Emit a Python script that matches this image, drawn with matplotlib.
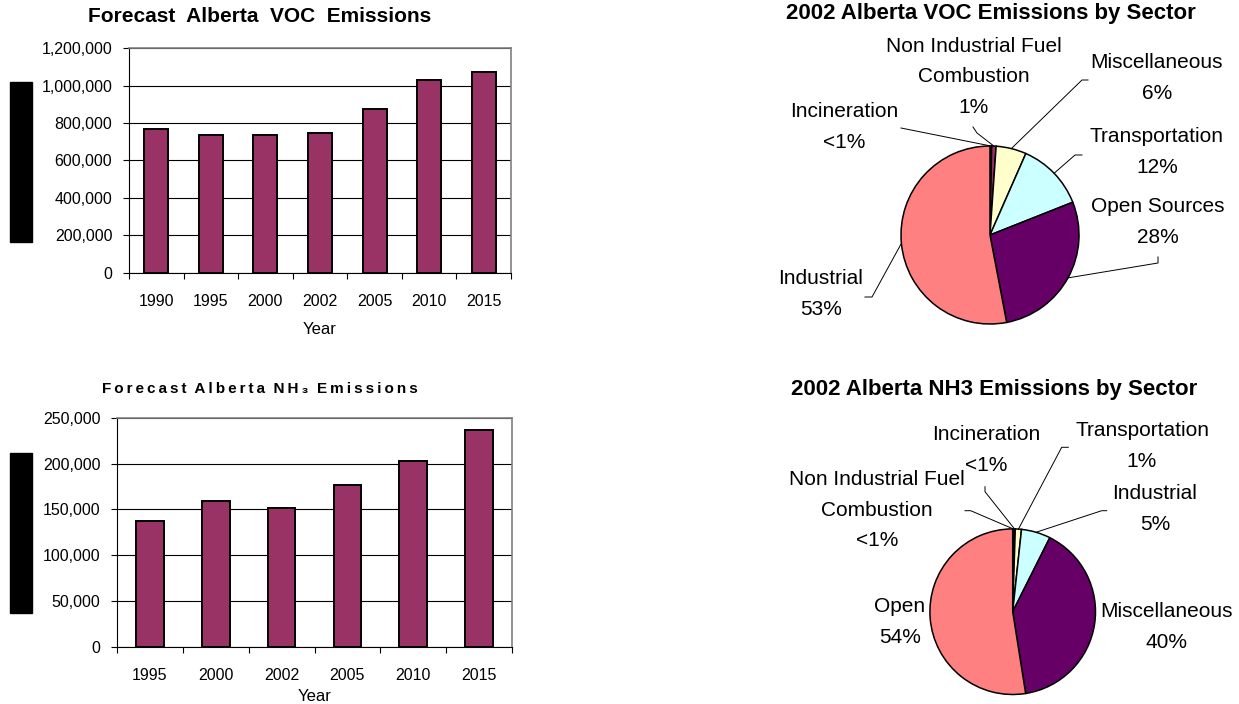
"""
Alberta VOC / NH3 emissions: forecast bars and 2002 sector pies
"""
import matplotlib
matplotlib.use('Agg')
import matplotlib.pyplot as plt
from matplotlib.patches import Rectangle
from matplotlib.ticker import FuncFormatter
import numpy as np

plt.rcParams['font.family'] = ['Liberation Sans', 'DejaVu Sans']

# --- data -------------------------------------------------------------
voc_years = ['1990', '1995', '2000', '2002', '2005', '2010', '2015']
voc_values = [767500, 737000, 737000, 748000, 875600, 1029800, 1074000]

nh3_years = ['1995', '2000', '2002', '2005', '2010', '2015']
nh3_values = [137500, 159000, 151000, 176500, 202700, 236900]

voc_sectors = ['Incineration', 'Non Industrial Fuel\nCombustion', 'Miscellaneous',
               'Transportation', 'Open Sources', 'Industrial']
voc_shares = [0.3, 0.8, 5.5, 12.4, 28.0, 53.0]
voc_pct = ['<1%', '1%', '6%', '12%', '28%', '53%']

nh3_sectors = ['Non Industrial Fuel\nCombustion', 'Incineration', 'Transportation',
               'Industrial', 'Miscellaneous', 'Open']
nh3_shares = [0.2, 0.3, 1.2, 5.7, 40.1, 52.5]
nh3_pct = ['<1%', '<1%', '1%', '5%', '40%', '54%']

# Excel default pie palette
pie_colors = ['#9999FF', '#993366', '#FFFFCC', '#CCFFFF', '#660066', '#FF8080']
bar_color = '#993366'

# --- layout (pixels of the 1239x704 canvas) ---------------------------
W, H = 1239, 704

# label centre, elbow points of the leader line (empty = no leader)
voc_label_layout = [
    ((844, 127), [(901, 128), (906, 129)]),
    ((974, 77), [(973, 127), (977, 133)]),
    ((1157, 78), [(1088, 80), (1082, 80)]),
    ((1157, 152), [(1082, 155), (1075, 155)]),
    ((1158, 222), [(1158, 257), (1158, 263)]),
    ((821, 294), [(865, 297), (872, 297)]),
]
nh3_label_layout = [
    ((877, 510), [(965, 510.7), (970.7, 510.7)]),
    ((986, 450), [(985, 486.7), (985, 491.7)]),
    ((1142, 446), [(1068.3, 447.3), (1061.7, 447.3)]),
    ((1155, 509), [(1106.7, 510.7), (1101.7, 510.7)]),
    ((1167, 627), []),
    ((900, 622), []),
]

fig = plt.figure(figsize=(W / 100, H / 100), dpi=100)


def px_axes(x0, y0, x1, y1):
    return fig.add_axes([x0 / W, 1 - y1 / H, (x1 - x0) / W, (y1 - y0) / H])


def bar_panel(box, cats, vals, ymax, ystep, width, label_y):
    ax = px_axes(*box)
    x = np.arange(len(cats))
    ax.bar(x, vals, width=width, color=bar_color, edgecolor='black',
           linewidth=1.4, zorder=3)
    ax.set_xlim(-0.5, len(cats) - 0.5)
    ax.set_ylim(0, ymax)
    ax.set_yticks(np.arange(0, ymax + 1, ystep))
    ax.yaxis.set_major_formatter(FuncFormatter(lambda v, p: f'{int(v):,}'))
    ax.grid(axis='y', color='black', linewidth=0.8)
    ax.set_axisbelow(True)
    ax.set_xticks(x)
    ax.set_xticklabels(cats)
    ax.set_xticks(np.arange(len(cats) + 1) - 0.5, minor=True)
    ax.tick_params(axis='x', which='major', length=0, pad=15, labelsize=11.5)
    ax.tick_params(axis='x', which='minor', length=4.5, width=0.8, direction='out')
    ax.tick_params(axis='y', length=4, width=0.8, pad=8, labelsize=11.5)
    for s in ('left', 'bottom'):
        ax.spines[s].set_color('black')
        ax.spines[s].set_linewidth(0.8)
    for s in ('top', 'right'):
        ax.spines[s].set_color('#808080')
        ax.spines[s].set_linewidth(1.2)
    ax.set_xlabel('Year', fontsize=12)
    ax.xaxis.set_label_coords(0.5, label_y)
    return ax


def pie_panel(box, center, radius, shares, names, pcts, layout):
    x0, y0, x1, y1 = box
    ax = px_axes(x0, y0, x1, y1)
    cx, cy = center

    def d(p):
        return ((p[0] - cx) / radius, (cy - p[1]) / radius)

    wedges, _ = ax.pie(shares, colors=pie_colors, startangle=90, counterclock=False,
                       wedgeprops=dict(edgecolor='black', linewidth=1.1))
    ax.set_aspect('auto')
    ax.set_xlim((x0 - cx) / radius, (x1 - cx) / radius)
    ax.set_ylim((cy - y1) / radius, (cy - y0) / radius)
    ax.axis('off')

    for w, name, pct, (lab, elbow) in zip(wedges, names, pcts, layout):
        tx, ty = d(lab)
        ax.text(tx, ty, f'{name}\n{pct}', ha='center', va='center',
                fontsize=15, linespacing=1.75)
        if elbow:
            th = np.radians((w.theta1 + w.theta2) / 2)
            pts = [d(p) for p in elbow] + [(np.cos(th), np.sin(th))]
            ax.plot([p[0] for p in pts], [p[1] for p in pts], color='black',
                    linewidth=0.7, clip_on=False)
    return ax


bar_panel((129, 48, 511, 273), voc_years, voc_values, 1200000, 200000, 0.44, -0.218)
bar_panel((117, 417.7, 512, 646.7), nh3_years, nh3_values, 250000, 50000, 0.42, -0.185)

pie_panel((760, 0, 1239, 350), (990, 235), 89, voc_shares, voc_sectors, voc_pct,
          voc_label_layout)
pie_panel((760, 372, 1239, 704), (1012.7, 611.7), 82.8, nh3_shares, nh3_sectors,
          nh3_pct, nh3_label_layout)

# black blocks where the y axis titles were
for (bx, by, bw, bh) in [(10, 82, 22, 160), (10, 453, 22, 160)]:
    fig.patches.append(Rectangle((bx / W, 1 - (by + bh) / H), bw / W, bh / H,
                                 transform=fig.transFigure, color='black'))

# titles
fig.text(260 / W, 1 - 17 / H, 'Forecast  Alberta  VOC  Emissions', ha='center',
         va='center', fontsize=15, fontweight='bold')
ts = '\u2009'
nh3_title = '  '.join(ts.join(w) for w in ['Forecast', 'Alberta', 'NH\u2083', 'Emissions'])
fig.text(260 / W, 1 - 389 / H, nh3_title, ha='center', va='center', fontsize=11,
         fontweight='bold')
fig.text(991 / W, 1 - 14 / H, '2002 Alberta VOC Emissions by Sector', ha='center',
         va='center', fontsize=16, fontweight='bold')
fig.text(994 / W, 1 - 390 / H, '2002 Alberta NH3 Emissions by Sector', ha='center',
         va='center', fontsize=16, fontweight='bold')

fig.savefig('out.png', dpi=100)
